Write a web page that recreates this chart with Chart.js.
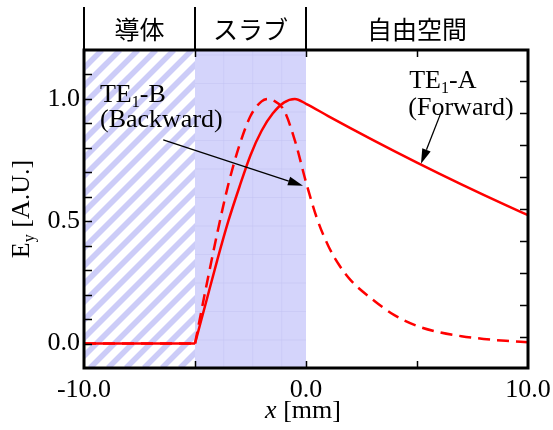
<!DOCTYPE html>
<html>
<head>
<meta charset="utf-8">
<script src="https://cdn.jsdelivr.net/npm/chart.js@4/dist/chart.umd.min.js"></script>
<style>
  html, body { margin: 0; padding: 0; background: #fff; }
  canvas { display: block; }
</style>
</head>
<body>
<canvas id="chart" width="553" height="430"></canvas>
<script>
// Regions along x [mm]
const regionNames = ['導体', 'スラブ', '自由空間'];
const regionBounds = [-10, -5, 0, 10];

// Tick labels
const xLabelValues = [-10, 0, 10];
const xTickLabels = ['-10.0', '0.0', '10.0'];
const yLabelValues = [0, 0.5, 1.0];
const yTickLabels = ['0.0', '0.5', '1.0'];

// Field inside the conductor (zero for both modes)
const xConductor = [-10, -5];
const yConductor = [0, 0];

// TE1-A (forward) mode profile
const xA = [-5, -4.5, -4, -3.5, -3, -2.5, -2, -1.5, -1, -0.5, 0, 1, 2, 3, 4, 5, 6, 7, 8, 9, 10];
const yA = [0, 0.17, 0.34, 0.50, 0.64, 0.77, 0.87, 0.94, 0.985, 1.0, 0.98, 0.93, 0.881, 0.833, 0.786, 0.74, 0.695, 0.651, 0.608, 0.566, 0.525];

// TE1-B (backward) mode profile
const xB = [-5, -4.5, -4, -3.5, -3, -2.5, -2, -1.7, -1.5, -1, -0.5, 0, 0.5, 1, 1.5, 2, 3, 4, 5, 6, 7, 8, 9, 10];
const yB = [0, 0.23, 0.45, 0.65, 0.81, 0.93, 0.99, 1.0, 0.995, 0.955, 0.83, 0.66, 0.51, 0.40, 0.32, 0.26, 0.18, 0.115, 0.072, 0.046, 0.03, 0.019, 0.011, 0.005];

const toPoints = (xs, ys) => xs.map((x, i) => ({ x, y: ys[i] }));

const SERIF = '"Liberation Serif", "Times New Roman", serif';
const CJK = '"Noto Sans CJK JP", "Noto Sans CJK SC", sans-serif';
const RED = '#ff0000';

// Text labels and leader arrows, placed in data coordinates
const notes = [
  { parts: [['TE'], ['1', true], ['-B']], x: -9.28, y: 0.989 },
  { parts: [['(Backward)']], x: -9.28, y: 0.884 },
  { parts: [['TE'], ['1', true], ['-A']], x: 4.65, y: 1.045 },
  { parts: [['(Forward)']], x: 4.61, y: 0.936 }
];
const arrows = [
  { from: [-6.43, 0.833], to: [-0.135, 0.645] },
  { from: [6.08, 0.944], to: [5.18, 0.735] }
];

function drawRich(ctx, parts, x, y, size) {
  let cx = x;
  for (const [t, sub, italic] of parts) {
    const s = sub ? Math.round(size * 0.62) : size;
    ctx.font = (italic ? 'italic ' : '') + s + 'px ' + SERIF;
    ctx.fillText(t, cx, sub ? y + size * 0.2 : y);
    cx += ctx.measureText(t).width;
  }
  return cx - x;
}
function richWidth(ctx, parts, size) {
  let w = 0;
  for (const [t, sub, italic] of parts) {
    const s = sub ? Math.round(size * 0.62) : size;
    ctx.font = (italic ? 'italic ' : '') + s + 'px ' + SERIF;
    w += ctx.measureText(t).width;
  }
  return w;
}

const regionsPlugin = {
  id: 'regions',
  beforeDatasetsDraw(chart) {
    const { ctx, chartArea: a, scales: { x } } = chart;
    const x0 = x.getPixelForValue(regionBounds[0]);
    const x1 = x.getPixelForValue(regionBounds[1]);
    const x2 = x.getPixelForValue(regionBounds[2]);
    const h = a.bottom - a.top;

    // conductor: diagonal hatching
    ctx.save();
    ctx.beginPath();
    ctx.rect(x0, a.top, x1 - x0, h);
    ctx.clip();
    ctx.strokeStyle = 'rgb(204,204,248)';
    ctx.lineWidth = 5.5;
    ctx.filter = 'blur(0.5px)';
    for (let k = -h; k < (x1 - x0) + h; k += 18) {
      ctx.beginPath();
      ctx.moveTo(x0 + k, a.bottom);
      ctx.lineTo(x0 + k + h, a.top);
      ctx.stroke();
    }
    ctx.restore();

    // slab: flat lavender fill with a faint grid texture
    ctx.save();
    ctx.fillStyle = 'rgb(212,212,251)';
    ctx.fillRect(x1, a.top, x2 - x1, h);
    ctx.beginPath();
    ctx.rect(x1, a.top, x2 - x1, h);
    ctx.clip();
    ctx.strokeStyle = 'rgba(190,190,240,0.4)';
    ctx.lineWidth = 1;
    for (let px = x1 + 28.7; px < x2; px += 29) {
      ctx.beginPath(); ctx.moveTo(px, a.top); ctx.lineTo(px, a.bottom); ctx.stroke();
    }
    for (let py = a.bottom - 28; py > a.top; py -= 28.5) {
      ctx.beginPath(); ctx.moveTo(x1, py); ctx.lineTo(x2, py); ctx.stroke();
    }
    ctx.restore();
  },
  afterDraw(chart) {
    const { ctx, chartArea: a, scales: { x, y, y2 } } = chart;
    ctx.save();
    ctx.strokeStyle = '#000';
    ctx.fillStyle = '#000';

    // tick marks, pointing inward
    ctx.lineWidth = 1.5;
    const eps = 1e-6;
    x.ticks.forEach(t => {
      if (t.value <= x.min + eps || t.value >= x.max - eps) return;
      const px = Math.round(x.getPixelForValue(t.value)) + 0.5;
      ctx.beginPath(); ctx.moveTo(px, a.bottom); ctx.lineTo(px, a.bottom - 7); ctx.stroke();
      ctx.beginPath(); ctx.moveTo(px, a.top); ctx.lineTo(px, a.top + 7); ctx.stroke();
    });
    y.ticks.forEach(t => {
      if (t.value <= y.min + eps || t.value >= y.max - eps) return;
      const py = Math.round(y.getPixelForValue(t.value)) + 0.5;
      ctx.beginPath(); ctx.moveTo(a.left, py); ctx.lineTo(a.left + 8, py); ctx.stroke();
    });
    y2.ticks.forEach(t => {
      if (Math.abs(t.value - Math.round(t.value)) > eps) return;
      const py = Math.round(y2.getPixelForValue(t.value)) + 0.5;
      ctx.beginPath(); ctx.moveTo(a.right, py); ctx.lineTo(a.right - 8, py); ctx.stroke();
    });

    // frame
    ctx.lineWidth = 3;
    ctx.strokeRect(a.left, a.top, a.right - a.left, a.bottom - a.top);

    // header band: dividers and region names
    ctx.lineWidth = 2;
    const bx = regionBounds.map(v => x.getPixelForValue(v));
    for (let i = 0; i < 3; i++) {
      ctx.beginPath(); ctx.moveTo(bx[i], 7); ctx.lineTo(bx[i], a.top); ctx.stroke();
    }
    ctx.font = '25px ' + CJK;
    ctx.textAlign = 'center';
    ctx.textBaseline = 'middle';
    regionNames.forEach((n, i) => ctx.fillText(n, (bx[i] + bx[i + 1]) / 2, 29));

    // annotations
    ctx.textAlign = 'left';
    ctx.textBaseline = 'alphabetic';
    notes.forEach(n => drawRich(ctx, n.parts, x.getPixelForValue(n.x), y.getPixelForValue(n.y), 26));

    ctx.lineWidth = 1.3;
    arrows.forEach(ar => {
      const fx = x.getPixelForValue(ar.from[0]), fy = y.getPixelForValue(ar.from[1]);
      const tx = x.getPixelForValue(ar.to[0]), ty = y.getPixelForValue(ar.to[1]);
      const ang = Math.atan2(ty - fy, tx - fx);
      const L = 15, W = 4.5;
      const bxp = tx - L * Math.cos(ang), byp = ty - L * Math.sin(ang);
      ctx.beginPath(); ctx.moveTo(fx, fy); ctx.lineTo(bxp, byp); ctx.stroke();
      ctx.beginPath();
      ctx.moveTo(tx, ty);
      ctx.lineTo(bxp + W * Math.sin(ang), byp - W * Math.cos(ang));
      ctx.lineTo(bxp - W * Math.sin(ang), byp + W * Math.cos(ang));
      ctx.closePath(); ctx.fill();
    });

    // axis titles
    const xt = [['x', false, true], [' [mm]']];
    const xw = richWidth(ctx, xt, 26);
    drawRich(ctx, xt, (a.left + a.right) / 2 - xw / 2 - 3, 418, 26);

    const yt = [['E'], ['y', true], [' [A.U.]']];
    const yw = richWidth(ctx, yt, 26);
    ctx.translate(0, (a.top + a.bottom) / 2);
    ctx.rotate(-Math.PI / 2);
    drawRich(ctx, yt, -yw / 2, 29, 26);
    ctx.restore();
  }
};

const labelFrom = (vals, labels) => v => {
  const i = vals.findIndex(u => Math.abs(u - v) < 1e-6);
  return i >= 0 ? labels[i] : '';
};

new Chart(document.getElementById('chart'), {
  type: 'line',
  data: {
    datasets: [
      { label: 'TE1-A', data: toPoints(xConductor, yConductor), borderColor: RED, borderWidth: 2.5 },
      { label: 'TE1-B', data: toPoints(xConductor, yConductor), borderColor: RED, borderWidth: 2.5, borderDash: [12, 7] },
      { label: 'TE1-A (Forward)', data: toPoints(xA, yA), borderColor: RED, borderWidth: 2.5, cubicInterpolationMode: 'monotone' },
      { label: 'TE1-B (Backward)', data: toPoints(xB, yB), borderColor: RED, borderWidth: 2.5, borderDash: [12, 7], cubicInterpolationMode: 'monotone' }
    ]
  },
  options: {
    responsive: false,
    animation: false,
    devicePixelRatio: 1,
    layout: { padding: { top: 50, left: 0, right: 0, bottom: 0 } },
    plugins: { legend: { display: false }, tooltip: { enabled: false } },
    elements: { point: { radius: 0 } },
    scales: {
      x: {
        type: 'linear', min: -10, max: 10,
        grid: { display: false, drawTicks: false },
        border: { display: false },
        ticks: {
          stepSize: 5, autoSkip: false, maxRotation: 0, padding: 7, color: '#000',
          font: { family: SERIF, size: 26 },
          callback: labelFrom(xLabelValues, xTickLabels)
        },
        afterFit: s => { s.height = 62; s.paddingLeft = 0; s.paddingRight = 0; }
      },
      y: {
        min: -0.1, max: 1.2,
        grid: { display: false, drawTicks: false },
        border: { display: false },
        ticks: {
          stepSize: 0.1, autoSkip: false, padding: 4, color: '#000',
          font: { family: SERIF, size: 26 },
          callback: labelFrom(yLabelValues, yTickLabels)
        },
        afterFit: s => { s.width = 84; s.paddingTop = 0; s.paddingBottom = 0; }
      },
      y2: {
        position: 'right', min: -0.97, max: 8.97,
        grid: { display: false, drawTicks: false },
        border: { display: false },
        ticks: { display: false, stepSize: 1 },
        afterFit: s => { s.width = 25; }
      }
    }
  },
  plugins: [regionsPlugin]
});
</script>
</body>
</html>
